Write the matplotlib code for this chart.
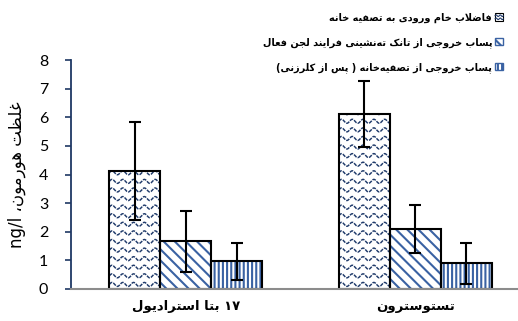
import numpy as np
import matplotlib
matplotlib.use("Agg")
import matplotlib.pyplot as plt
from matplotlib.patches import Rectangle, Patch
from matplotlib.lines import Line2D
from matplotlib.legend_handler import HandlerPatch

# ---- data -------------------------------------------------------------
categories = ["۱۷ بتا استرادیول", "تستوسترون"]
series_labels = [
    "فاضلاب خام ورودی به تصفیه خانه",
    "پساب خروجی از تانک ته\u200cنشینی فرایند لجن فعال",
    "پساب خروجی از تصفیه\u200cخانه ( پس از کلرزنی)",
]
raw_influent = [4.13, 6.12]
raw_influent_err = [1.72, 1.16]
settling_effluent = [1.67, 2.10]
settling_effluent_err = [1.07, 0.85]
final_effluent = [0.97, 0.90]
final_effluent_err = [0.65, 0.72]
y_label = "غلظت هورمون، ng/l"
y_ticks = [0, 1, 2, 3, 4, 5, 6, 7, 8]

# ---- minimal Arabic-script shaping and right-to-left layout -----------------
# char: (isolated, final, initial, medial); right-joining letters have no initial/medial
FORMS = {
    "ا": ("\uFE8D", "\uFE8E", None, None),
    "ب": ("\uFE8F", "\uFE90", "\uFE91", "\uFE92"),
    "پ": ("\uFB56", "\uFB57", "\uFB58", "\uFB59"),
    "ت": ("\uFE95", "\uFE96", "\uFE97", "\uFE98"),
    "ج": ("\uFE9D", "\uFE9E", "\uFE9F", "\uFEA0"),
    "خ": ("\uFEA5", "\uFEA6", "\uFEA7", "\uFEA8"),
    "د": ("\uFEA9", "\uFEAA", None, None),
    "ر": ("\uFEAD", "\uFEAE", None, None),
    "ز": ("\uFEAF", "\uFEB0", None, None),
    "س": ("\uFEB1", "\uFEB2", "\uFEB3", "\uFEB4"),
    "ش": ("\uFEB5", "\uFEB6", "\uFEB7", "\uFEB8"),
    "ص": ("\uFEB9", "\uFEBA", "\uFEBB", "\uFEBC"),
    "ض": ("\uFEBD", "\uFEBE", "\uFEBF", "\uFEC0"),
    "ظ": ("\uFEC5", "\uFEC6", "\uFEC7", "\uFEC8"),
    "ع": ("\uFEC9", "\uFECA", "\uFECB", "\uFECC"),
    "غ": ("\uFECD", "\uFECE", "\uFECF", "\uFED0"),
    "ف": ("\uFED1", "\uFED2", "\uFED3", "\uFED4"),
    "ک": ("\uFB8E", "\uFB8F", "\uFB90", "\uFB91"),
    "ل": ("\uFEDD", "\uFEDE", "\uFEDF", "\uFEE0"),
    "م": ("\uFEE1", "\uFEE2", "\uFEE3", "\uFEE4"),
    "ن": ("\uFEE5", "\uFEE6", "\uFEE7", "\uFEE8"),
    "ه": ("\uFEE9", "\uFEEA", "\uFEEB", "\uFEEC"),
    "و": ("\uFEED", "\uFEEE", None, None),
    "ی": ("\uFBFC", "\uFBFD", "\uFBFE", "\uFBFF"),
}
ZWNJ = "\u200c"
MIRROR = {"(": ")", ")": "("}


def shape(run):
    out = []
    i = 0
    while i < len(run):
        ch = run[i]
        if ch not in FORMS:
            if ch != ZWNJ:
                out.append(ch)
            i += 1
            continue
        prev = run[i - 1] if i > 0 else None
        joins_prev = prev in FORMS and FORMS[prev][2] is not None
        if ch == "ل" and i + 1 < len(run) and run[i + 1] == "ا":
            out.append("\uFEFC" if joins_prev else "\uFEFB")
            i += 2
            continue
        nxt = run[i + 1] if i + 1 < len(run) else None
        joins_next = FORMS[ch][2] is not None and nxt in FORMS
        iso, fin, ini, med = FORMS[ch]
        if joins_prev and joins_next:
            out.append(med)
        elif joins_prev:
            out.append(fin)
        elif joins_next:
            out.append(ini)
        else:
            out.append(iso)
        i += 1
    return "".join(out)


def is_ltr(ch):
    return (ch.isascii() and (ch.isalnum() or ch in "/.")) or "\u06F0" <= ch <= "\u06F9"


def rtl(text):
    """Right-to-left paragraph: shape Arabic runs, keep numbers/Latin left-to-right."""
    runs, buf, cur = [], "", None
    for ch in text:
        kind = is_ltr(ch)
        if cur is None or kind == cur:
            buf += ch
        else:
            runs.append((cur, buf))
            buf = ch
        cur = kind
    runs.append((cur, buf))
    out = []
    for ltr, s in reversed(runs):
        if ltr:
            out.append(s)
        else:
            out.append("".join(MIRROR.get(c, c) for c in shape(s)[::-1]))
    return "".join(out)


# ---- style --------------------------------------------------------------
stripe_blue = "#3A62A3"
wave_navy = "#1F3A6A"
axis_navy = "#1F3864"
plt.rcParams["hatch.linewidth"] = 1.5
plt.rcParams["font.family"] = ["DejaVu Sans"]

fig = plt.figure(figsize=(5.18, 3.21), dpi=100)
ax = fig.add_axes([71 / 518, 32 / 321, 459 / 518, 229 / 321])

x = np.arange(len(categories))
w = 0.222
series = [
    (raw_influent, raw_influent_err, -w, None),
    (settling_effluent, settling_effluent_err, 0.0, "\\\\\\"),
    (final_effluent, final_effluent_err, w, "||||"),
]

for vals, errs, off, hatch in series:
    if hatch is None:
        bars = ax.bar(x + off, vals, w, color="white", edgecolor="none", zorder=2)
        for b in bars:
            x0, x1 = b.get_x(), b.get_x() + b.get_width()
            xs = np.linspace(x0, x1, 150)
            for y0 in np.arange(0.16, b.get_height() + 0.3, 0.30):
                ys = y0 + 0.07 * np.sin(2 * np.pi * (xs - x0) / 0.047)
                ln = ax.plot(xs, ys, color=wave_navy, lw=1.05,
                             linestyle=(0, (2.5, 0.8)), zorder=3)[0]
                ln.set_clip_path(b)
    else:
        ax.bar(x + off, vals, w, color="white", edgecolor=stripe_blue,
               hatch=hatch, linewidth=0, zorder=2)
    ax.bar(x + off, vals, w, color="none", edgecolor="black", linewidth=1.5, zorder=4)
    ax.errorbar(x + off, vals, yerr=errs, fmt="none", ecolor="black",
                elinewidth=1.5, capsize=4.5, capthick=1.5, zorder=5)

ax.set_xlim(-0.5, 1.5)
ax.set_ylim(0, 8)
ax.set_yticks(y_ticks)
ax.set_yticklabels([str(t) for t in y_ticks], fontfamily="Lato", fontsize=11.5)
ax.set_xticks(x)
ax.set_xticklabels([rtl(c) for c in categories], fontweight="bold", fontsize=9.5)

for s in ("top", "right"):
    ax.spines[s].set_visible(False)
ax.spines["left"].set_color(axis_navy)
ax.spines["left"].set_linewidth(1.3)
ax.spines["bottom"].set_color("#8C8C8C")
ax.spines["bottom"].set_linewidth(1.5)
ax.spines["bottom"].set_zorder(6)
ax.tick_params(axis="y", direction="out", length=4.5, width=1.2, color=axis_navy, pad=12)
ax.tick_params(axis="x", length=0, pad=8)

ax.set_ylabel(rtl(y_label), fontsize=12)
ax.yaxis.set_label_coords(-0.097, 0.50)


class WaveHandler(HandlerPatch):
    def create_artists(self, legend, orig_handle, xdescent, ydescent,
                       width, height, fontsize, trans):
        rect = Rectangle((-xdescent, -ydescent), width, height, facecolor="white",
                         edgecolor="black", lw=0.8, transform=trans)
        arts = [rect]
        xs = np.linspace(-xdescent, -xdescent + width, 30)
        for frac in (0.3, 0.7):
            ys = -ydescent + height * frac + height * 0.1 * np.sin(2 * np.pi * xs / (width / 2))
            arts.append(Line2D(xs, ys, color=wave_navy, lw=0.8, transform=trans))
        return arts


handles = [
    Patch(facecolor="white", edgecolor="black"),
    Patch(facecolor="white", edgecolor=stripe_blue, hatch="\\\\\\"),
    Patch(facecolor="white", edgecolor=stripe_blue, hatch="||||"),
]
leg = ax.legend(handles, [rtl(s) for s in series_labels],
                loc="upper right", bbox_to_anchor=(516 / 518, 1.0),
                bbox_transform=fig.transFigure, markerfirst=False, frameon=False,
                prop={"weight": "bold", "size": 7}, handlelength=0.85,
                handleheight=0.85, handletextpad=0.3, labelspacing=1.45,
                borderaxespad=0.9, borderpad=0.4,
                handler_map={handles[0]: WaveHandler()})

fig.savefig("out.png", dpi=100)
